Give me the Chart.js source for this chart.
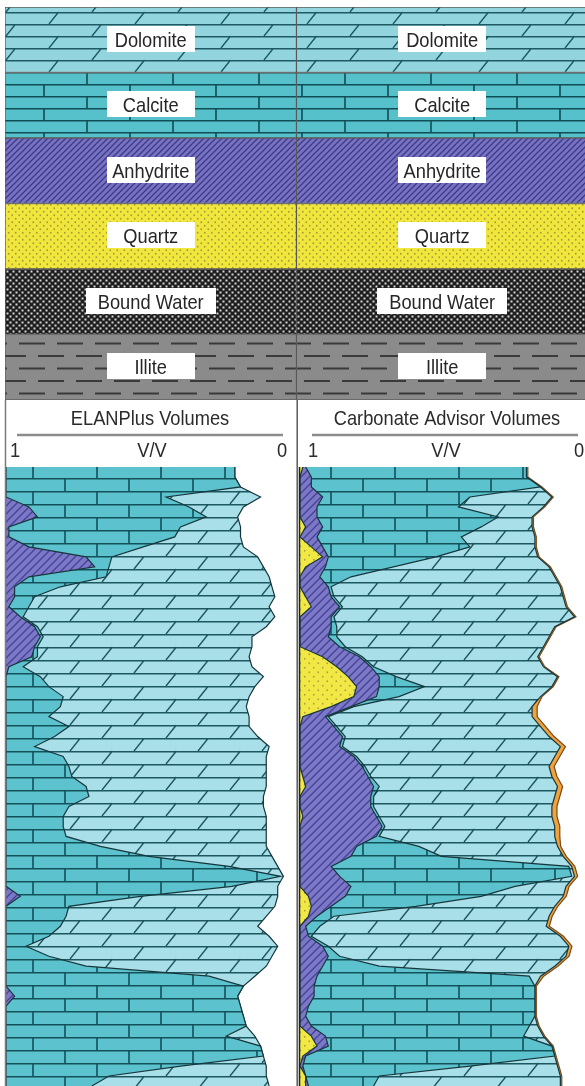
<!DOCTYPE html>
<html>
<head>
<meta charset="utf-8">
<title>ELANPlus vs Carbonate Advisor volumes</title>
<script src="https://cdn.jsdelivr.net/npm/chart.js@4.4.1/dist/chart.umd.min.js"></script>
<style>
  html, body { margin: 0; padding: 0; background: #fff; }
  #wrap { position: relative; width: 585px; height: 1086px; overflow: hidden; background: #fff; }
  .box { position: absolute; }
</style>
</head>
<body>
<div id="wrap">
  <div class="box" style="left:0;top:0;width:585px;height:400px"><canvas id="legendChart"></canvas></div>
  <div class="box" style="left:0;top:400px;width:298px;height:686px"><canvas id="elanChart"></canvas></div>
  <div class="box" style="left:298px;top:400px;width:287px;height:686px"><canvas id="caChart"></canvas></div>
</div>
<script>
// Lithology legend
const lithologies = ['Dolomite', 'Calcite', 'Anhydrite', 'Quartz', 'Bound Water', 'Illite'];
const legendBar = [1, 1, 1, 1, 1, 1];

// Track headers
const tickLabels = ['1', 'V/V', '0'];
const elanTitle = 'ELANPlus Volumes';
const caTitle = 'Carbonate Advisor Volumes';

// Depth samples (top of log = 0)
const depth = [
  0, 10, 20, 30, 40, 50, 60, 70, 80, 90,
  100, 110, 120, 130, 140, 150, 160, 170, 180, 190,
  200, 210, 220, 230, 240, 250, 260, 270, 280, 290,
  300, 310, 320, 330, 340, 350, 360, 370, 380, 390,
  400, 410, 420, 430, 440, 450, 460, 470, 480, 490,
  500, 510, 520, 530, 540, 550, 560, 570, 580, 590,
  600, 610, 620
];

// ELANPlus mineral volumes (V/V)
const elanAnhydrite = [
  0, 0, 0, 0, 0.08, 0.11, 0.01, 0.01, 0.08, 0.28,
  0.31, 0.08, 0.03, 0.03, 0.01, 0.05, 0.10, 0.12, 0.10, 0.09,
  0.01, 0, 0, 0, 0, 0, 0, 0, 0, 0,
  0, 0, 0, 0, 0, 0, 0, 0, 0, 0,
  0, 0, 0, 0.05, 0, 0, 0, 0, 0, 0,
  0, 0, 0, 0.03, 0, 0, 0, 0, 0, 0,
  0, 0, 0
];
const elanCalcite = [
  0.80, 0.80, 0.82, 0.56, 0.56, 0.59, 0.60, 0.58, 0.40, 0.09,
  0.05, 0.27, 0.16, 0.07, 0.07, 0.01, 0.01, 0.01, 0.01, 0.02,
  0.05, 0.12, 0.15, 0.20, 0.19, 0.15, 0.22, 0.17, 0.10, 0.20,
  0.22, 0.23, 0.28, 0.29, 0.22, 0.20, 0.20, 0.21, 0.33, 0.50,
  0.78, 0.96, 0.79, 0.42, 0.22, 0.21, 0.19, 0.15, 0.07, 0.15,
  0.28, 0.71, 0.83, 0.78, 0.82, 0.83, 0.84, 0.77, 0.89, 0.90,
  0.61, 0.36, 0.30
];
const elanDolomite = [
  0, 0, 0, 0.33, 0.19, 0.11, 0.21, 0.23, 0.35, 0.51,
  0.54, 0.57, 0.74, 0.84, 0.84, 0.88, 0.80, 0.73, 0.75, 0.74,
  0.80, 0.78, 0.72, 0.65, 0.65, 0.70, 0.63, 0.71, 0.82, 0.71,
  0.69, 0.68, 0.63, 0.61, 0.68, 0.71, 0.71, 0.70, 0.58, 0.43,
  0.17, 0.01, 0.16, 0.48, 0.72, 0.70, 0.69, 0.77, 0.88, 0.78,
  0.63, 0.16, 0, 0, 0, 0, 0, 0.10, 0, 0,
  0.30, 0.55, 0.62
];

// Carbonate Advisor mineral volumes (V/V)
const caQuartz = [
  0.01, 0, 0, 0, 0, 0, 0.02, 0, 0.04, 0.08,
  0.02, 0, 0, 0.02, 0.04, 0, 0, 0, 0, 0.08,
  0.13, 0.17, 0.20, 0.19, 0.11, 0.01, 0, 0, 0, 0,
  0, 0.01, 0.02, 0, 0, 0.01, 0, 0, 0, 0,
  0, 0, 0, 0.03, 0.04, 0.03, 0, 0, 0, 0,
  0, 0, 0, 0, 0, 0, 0, 0.04, 0.06, 0.01,
  0, 0.02, 0.02
];
const caAnhydrite = [
  0.01, 0.04, 0.04, 0.08, 0.06, 0.06, 0.06, 0.06, 0.04, 0.02,
  0.07, 0.07, 0.10, 0.09, 0.10, 0.11, 0.11, 0.10, 0.14, 0.13,
  0.12, 0.11, 0.08, 0.08, 0.07, 0.08, 0.12, 0.15, 0.14, 0.19,
  0.22, 0.23, 0.24, 0.25, 0.25, 0.26, 0.29, 0.27, 0.20, 0.18,
  0.11, 0.14, 0.18, 0.13, 0.07, 0.03, 0.02, 0.03, 0.08, 0.10,
  0.08, 0.06, 0.05, 0.05, 0.03, 0.02, 0.04, 0.05, 0.04, 0.01,
  0.01, 0, 0.01
];
const caCalcite = [
  0.78, 0.76, 0.81, 0.52, 0.50, 0.64, 0.56, 0.51, 0.52, 0.38,
  0.24, 0.11, 0.01, 0.01, 0.01, 0.01, 0.02, 0.03, 0.02, 0.01,
  0.01, 0.06, 0.16, 0.08, 0.01, 0.01, 0.01, 0.01, 0.01, 0.01,
  0.01, 0.01, 0.02, 0.01, 0.01, 0.01, 0.01, 0.01, 0.22, 0.32,
  0.84, 0.82, 0.58, 0.48, 0.30, 0.06, 0.05, 0.01, 0.02, 0.04,
  0.20, 0.75, 0.78, 0.78, 0.80, 0.81, 0.77, 0.70, 0.79, 0.88,
  0.59, 0.26, 0.23
];
const caDolomite = [
  0, 0, 0, 0.29, 0.30, 0.12, 0.18, 0.26, 0.23, 0.36,
  0.55, 0.72, 0.81, 0.81, 0.79, 0.85, 0.77, 0.75, 0.70, 0.62,
  0.60, 0.57, 0.45, 0.50, 0.63, 0.72, 0.72, 0.72, 0.77, 0.70,
  0.65, 0.64, 0.63, 0.64, 0.63, 0.61, 0.60, 0.62, 0.49, 0.43,
  0.01, 0.01, 0.18, 0.29, 0.49, 0.76, 0.80, 0.88, 0.85, 0.80,
  0.62, 0.04, 0, 0, 0, 0, 0.03, 0.07, 0, 0,
  0.31, 0.64, 0.66
];
const caOther = [
  0.005, 0.005, 0.005, 0.005, 0.005, 0.005, 0.005, 0.005, 0.005, 0.005,
  0.005, 0.005, 0.005, 0.005, 0.005, 0.005, 0.005, 0.005, 0.005, 0.005,
  0.005, 0.005, 0.005, 0.005, 0.018, 0.018, 0.018, 0.018, 0.018, 0.018,
  0.018, 0.018, 0.018, 0.018, 0.018, 0.018, 0.018, 0.018, 0.011, 0.011,
  0.011, 0.011, 0.011, 0.011, 0.011, 0.011, 0.011, 0.011, 0.011, 0.011,
  0.011, 0.011, 0.005, 0.005, 0.005, 0.005, 0.005, 0.005, 0.005, 0.005,
  0.005, 0.005, 0.005
];

const TEXT_FONT = '21px "Liberation Sans", Arial, sans-serif';
const NARROW = 0.87;
const EDGE = '#16363c';

// ---- fill patterns ----
function makePattern(w, h, draw) {
  const tile = document.createElement('canvas');
  tile.width = w;
  tile.height = h;
  draw(tile.getContext('2d'), w, h);
  return tile.getContext('2d').createPattern(tile, 'repeat');
}

function brickPattern(bw, bh, bg, fg) {
  return makePattern(bw, bh * 2, (g, w, h) => {
    g.fillStyle = bg; g.fillRect(0, 0, w, h);
    g.strokeStyle = fg; g.lineWidth = 1.6;
    g.beginPath();
    g.moveTo(0, 0.8); g.lineTo(w, 0.8);
    g.moveTo(0, bh + 0.8); g.lineTo(w, bh + 0.8);
    g.moveTo(1, 0); g.lineTo(1, bh);
    g.moveTo(w / 2 + 1, bh); g.lineTo(w / 2 + 1, h);
    g.stroke();
  });
}

function slantBrickPattern(bw, bh, bg, fg) {
  return makePattern(bw, bh * 2, (g, w, h) => {
    g.fillStyle = bg; g.fillRect(0, 0, w, h);
    g.strokeStyle = fg; g.lineWidth = 1.4;
    const dx = bh * 0.8;
    g.beginPath();
    g.moveTo(0, 0.7); g.lineTo(w, 0.7);
    g.moveTo(0, bh + 0.7); g.lineTo(w, bh + 0.7);
    g.moveTo(6, bh); g.lineTo(6 + dx, 0);
    g.moveTo(6 + w / 2, h); g.lineTo(6 + w / 2 + dx, bh);
    g.stroke();
  });
}

function hatchPattern(s, bg, fg) {
  return makePattern(s, s, (g) => {
    g.fillStyle = bg; g.fillRect(0, 0, s, s);
    g.strokeStyle = fg; g.lineWidth = 1.3;
    g.beginPath();
    g.moveTo(0, s); g.lineTo(s, 0);
    g.moveTo(-1, 1); g.lineTo(1, -1);
    g.moveTo(s - 1, s + 1); g.lineTo(s + 1, s - 1);
    g.stroke();
  });
}

function dotPattern(s, bg, fg) {
  return makePattern(s, s, (g) => {
    g.fillStyle = bg; g.fillRect(0, 0, s, s);
    g.fillStyle = fg;
    g.beginPath();
    g.arc(s / 4, s / 4, 0.9, 0, Math.PI * 2);
    g.arc(s * 3 / 4, s * 3 / 4, 0.9, 0, Math.PI * 2);
    g.fill();
  });
}

function checkerPattern() {
  return makePattern(6, 6, (g) => {
    g.fillStyle = '#1e1e1e'; g.fillRect(0, 0, 6, 6);
    g.fillStyle = '#d4d4d4';
    g.fillRect(0.5, 0.5, 2, 2);
    g.fillRect(3.5, 3.5, 2, 2);
  });
}

function dashPattern() {
  return makePattern(38, 25, (g) => {
    g.fillStyle = '#8b8b8b'; g.fillRect(0, 0, 38, 25);
    g.strokeStyle = '#3a3a3a'; g.lineWidth = 2;
    g.beginPath();
    g.moveTo(0, 6); g.lineTo(26, 6);
    g.moveTo(19, 18.5); g.lineTo(38, 18.5);
    g.moveTo(0, 18.5); g.lineTo(7, 18.5);
    g.stroke();
  });
}

const legendFills = [
  slantBrickPattern(86, 12, '#93d5de', '#1e5a63'),
  brickPattern(86, 12, '#56c0cb', '#114d55'),
  hatchPattern(6, '#7773c2', '#3f3a88'),
  dotPattern(7, '#f0e63c', '#a59c3a'),
  checkerPattern(),
  dashPattern()
];

const logFill = {
  dolomite: slantBrickPattern(64, 13, '#a9dfe8', '#1d5760'),
  calcite: brickPattern(64, 13, '#5cc3ce', '#12505a'),
  anhydrite: hatchPattern(8, '#7b78c6', '#46409a'),
  quartz: dotPattern(9, '#f1e845', '#b0a63a'),
  other: '#f2a23a'
};

function narrowText(ctx, text, x, y, align) {
  ctx.save();
  ctx.translate(x, y);
  ctx.scale(NARROW, 1);
  ctx.textAlign = align || 'center';
  ctx.fillText(text, 0, 0);
  ctx.restore();
}

// ---- legend chart ----
const bandLabels = {
  id: 'bandLabels',
  afterDatasetsDraw(chart) {
    const ctx = chart.ctx;
    ctx.save();
    ctx.font = TEXT_FONT;
    chart.data.datasets.forEach((ds, di) => {
      chart.getDatasetMeta(di).data.forEach((bar, i) => {
        const text = chart.data.labels[i];
        const cx = (bar.x + bar.base) / 2;
        const tw = ctx.measureText(text).width * NARROW;
        const bw = tw > 90 ? tw + 24 : 88;
        ctx.fillStyle = '#ffffff';
        ctx.fillRect(Math.round(cx - bw / 2), Math.round(bar.y - 14), Math.round(bw), 26);
        ctx.fillStyle = '#262626';
        narrowText(ctx, text, cx, bar.y + 7);
      });
    });
    ctx.restore();
  }
};

new Chart(document.getElementById('legendChart'), {
  type: 'bar',
  data: {
    labels: lithologies,
    datasets: [0, 1].map(() => ({
      data: legendBar,
      backgroundColor: legendFills,
      borderColor: 'rgba(40, 40, 40, 0.75)',
      borderWidth: 1,
      borderSkipped: false,
      barPercentage: 1,
      categoryPercentage: 1
    }))
  },
  options: {
    indexAxis: 'y',
    responsive: true,
    maintainAspectRatio: false,
    animation: false,
    layout: { padding: { left: 5, right: 0, top: 7, bottom: 0 } },
    scales: {
      x: { display: false, stacked: true, min: 0, max: 1.99 },
      y: { display: false, stacked: true }
    },
    plugins: { legend: { display: false }, tooltip: { enabled: false } }
  },
  plugins: [bandLabels]
});

// ---- log tracks ----
const trackHeader = {
  id: 'trackHeader',
  afterDraw(chart, args, opts) {
    const ctx = chart.ctx;
    ctx.save();
    ctx.fillStyle = '#2b2b2b';
    ctx.font = TEXT_FONT;
    narrowText(ctx, opts.title, opts.titleX, 25);
    ctx.strokeStyle = '#8c8c8c';
    ctx.lineWidth = 2.5;
    ctx.beginPath();
    ctx.moveTo(opts.ruleFrom, 35);
    ctx.lineTo(opts.ruleTo, 35);
    ctx.stroke();
    tickLabels.forEach((t, i) => narrowText(ctx, t, opts.tickX[i], 57));
    opts.borders.forEach(b => {
      ctx.strokeStyle = b.color;
      ctx.lineWidth = b.width;
      ctx.beginPath();
      ctx.moveTo(b.x, b.from);
      ctx.lineTo(b.x, chart.height);
      ctx.stroke();
    });
    ctx.restore();
  }
};

function stackDatasets(layers) {
  let cum = depth.map(() => 0);
  return layers.map((layer, i) => {
    cum = cum.map((c, k) => c + layer.values[k]);
    return {
      label: layer.name,
      data: cum.map((c, k) => ({ x: 1 - c, y: depth[k] })),
      fill: i === 0 ? { value: 1 } : '-1',
      backgroundColor: layer.fill,
      borderColor: layer.edge || EDGE,
      borderWidth: 1.2,
      pointRadius: 0,
      tension: 0
    };
  });
}

function trackChart(id, layers, padding, header) {
  return new Chart(document.getElementById(id), {
    type: 'line',
    data: { datasets: stackDatasets(layers) },
    options: {
      indexAxis: 'y',
      responsive: true,
      maintainAspectRatio: false,
      animation: false,
      layout: { padding: padding },
      scales: {
        x: { type: 'linear', display: false, min: 0, max: 1, reverse: true },
        y: { type: 'linear', display: false, min: 0, max: 620, reverse: true }
      },
      plugins: {
        legend: { display: false },
        tooltip: { enabled: false },
        trackHeader: header
      }
    },
    plugins: [trackHeader]
  });
}

trackChart('elanChart', [
  { name: 'Anhydrite', values: elanAnhydrite, fill: logFill.anhydrite },
  { name: 'Calcite', values: elanCalcite, fill: logFill.calcite },
  { name: 'Dolomite', values: elanDolomite, fill: logFill.dolomite }
], { left: 6, right: 6, top: 67, bottom: 0 }, {
  title: elanTitle, titleX: 150, ruleFrom: 17, ruleTo: 283,
  tickX: [15, 152, 282],
  borders: [
    { x: 5.5, from: 0, color: '#7a7a7a', width: 1.5 },
    { x: 297.2, from: 0, color: '#5a5a5a', width: 1.5 }
  ]
});

trackChart('caChart', [
  { name: 'Quartz', values: caQuartz, fill: logFill.quartz },
  { name: 'Anhydrite', values: caAnhydrite, fill: logFill.anhydrite },
  { name: 'Calcite', values: caCalcite, fill: logFill.calcite },
  { name: 'Dolomite', values: caDolomite, fill: logFill.dolomite },
  { name: 'Other', values: caOther, fill: logFill.other, edge: '#7a4a1a' }
], { left: 2, right: 2, top: 67, bottom: 0 }, {
  title: caTitle, titleX: 149, ruleFrom: 14, ruleTo: 280,
  tickX: [15, 148, 281],
  borders: [
    { x: 1.5, from: 67, color: '#222222', width: 1.5 }
  ]
});
</script>
</body>
</html>
